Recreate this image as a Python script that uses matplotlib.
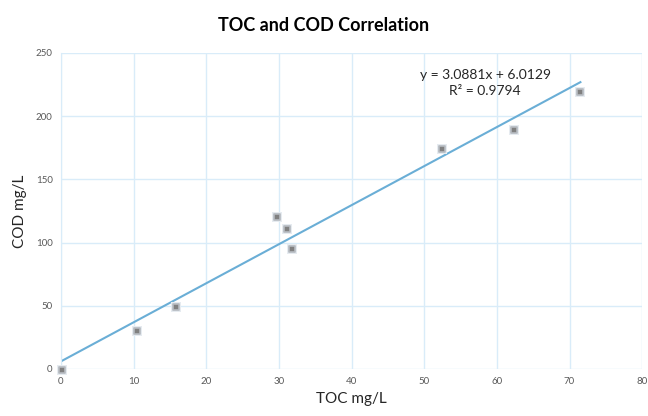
import matplotlib.pyplot as plt

# TOC vs COD measurements (mg/L)
toc = [0.2, 10.5, 15.8, 29.8, 31.1, 31.8, 52.4, 62.3, 71.5]
cod = [-1, 30, 49, 120, 111, 95, 174, 189, 219]

# trendline shown on chart
slope = 3.0881
intercept = 6.0129
r2 = 0.9794

plt.rcParams['font.family'] = ['Lato', 'DejaVu Sans']

fig = plt.figure(figsize=(6.48, 4.16), dpi=100)
ax = fig.add_axes([0.094, 0.113, 0.897, 0.76])

grid_col = "#d9ecf9"
ax.set_xlim(0, 80)
ax.set_ylim(0, 250)
ax.set_xticks(range(0, 81, 10))
ax.set_yticks(range(0, 251, 50))
ax.grid(True, color=grid_col, linewidth=1)
ax.set_axisbelow(True)
for side in ["top", "right", "bottom"]:
    ax.spines[side].set_visible(False)
ax.spines["left"].set_color(grid_col)
ax.tick_params(length=0, labelsize=7, colors="#595959", pad=6)

# trendline from 0 to max TOC
x_line = [0, max(toc)]
y_line = [slope * x + intercept for x in x_line]
ax.plot(x_line, y_line, color="#6aaed6", linewidth=1.5, zorder=2)

# soft halo then marker, to mimic the blurry squares
ax.scatter(toc, cod, marker="s", s=60, color="#e6ebf0", linewidths=0, zorder=3, clip_on=False)
ax.scatter(toc, cod, marker="s", s=24, color="#808080", edgecolors="#b5bac0",
           linewidths=1.2, zorder=4, clip_on=False)

ax.text(58.4, 226, f"y = {slope}x + {intercept}\nR\u00b2 = {r2}", ha="center", va="center",
        fontsize=10, color="#262626", linespacing=1.45)

ax.set_xlabel("TOC mg/L", fontsize=11, color="#262626", labelpad=4)
ax.set_ylabel("COD mg/L", fontsize=11, color="#262626", labelpad=6)
fig.suptitle("TOC and COD Correlation", fontsize=13, fontweight="bold", y=0.96, x=0.5)

plt.savefig("out.png")
